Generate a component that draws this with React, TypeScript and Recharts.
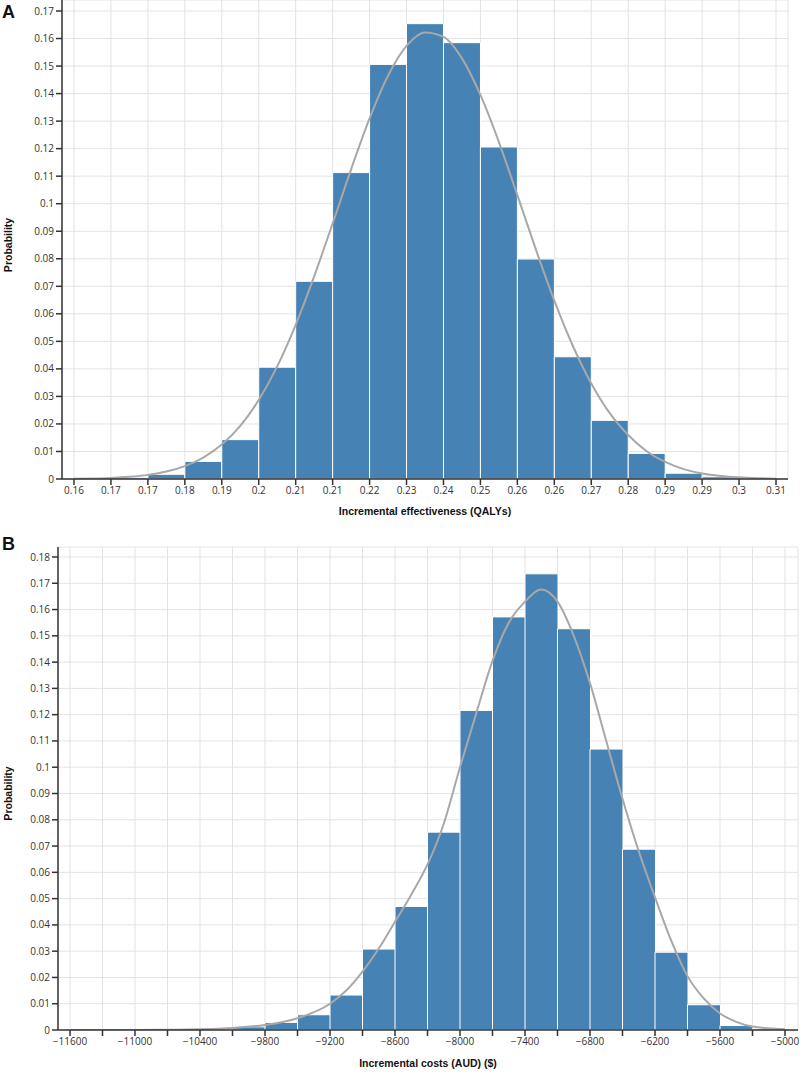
import React from 'react';
import { ComposedChart, Bar, Line, XAxis, YAxis, CartesianGrid, Label } from 'recharts';

// Panel A – incremental effectiveness (QALYs), 19 bins between tick marks
const qalyTickLabels = ['0.16', '0.17', '0.17', '0.18', '0.19', '0.2', '0.21', '0.21', '0.22', '0.23', '0.24', '0.25', '0.26', '0.26', '0.27', '0.28', '0.29', '0.29', '0.3', '0.31'];
const qalyBinProb = [0.0002, 0.0006, 0.0017, 0.0064, 0.0143, 0.0406, 0.0718, 0.1113, 0.1506, 0.1654, 0.1585, 0.1206, 0.0799, 0.0444, 0.0213, 0.0093, 0.0021, 0.0008, 0.0002];
// fitted curve, read every half bin
const qalyCurveProb = [
  0.0001, 0.0002, 0.0004, 0.0008, 0.0015, 0.0027, 0.0047, 0.0078, 0.0125, 0.0193,
  0.0287, 0.0409, 0.056, 0.0736, 0.0928, 0.1125, 0.131, 0.1465, 0.1573, 0.1622,
  0.1606, 0.1528, 0.1395, 0.1224, 0.1031, 0.0834, 0.0648, 0.0484, 0.0347, 0.0239,
  0.016, 0.0101, 0.0062, 0.0036, 0.002, 0.0011, 0.0006, 0.0003, 0.0001,
];
const qalyYTicks = [0, 0.01, 0.02, 0.03, 0.04, 0.05, 0.06, 0.07, 0.08, 0.09, 0.1, 0.11, 0.12, 0.13, 0.14, 0.15, 0.16, 0.17];

// Panel B – incremental costs (AUD), bins of 300
const costTicks = [-11600, -11300, -11000, -10700, -10400, -10100, -9800, -9500, -9200, -8900, -8600, -8300, -8000, -7700, -7400, -7100, -6800, -6500, -6200, -5900, -5600, -5300, -5000];
const costTickLabels = [-11600, -11000, -10400, -9800, -9200, -8600, -8000, -7400, -6800, -6200, -5600, -5000];
const costBinProb = [0, 0, 0, 0.0001, 0.0003, 0.0012, 0.0029, 0.0058, 0.0133, 0.0308, 0.047, 0.0753, 0.1216, 0.1572, 0.1736, 0.1527, 0.1069, 0.0688, 0.0296, 0.0096, 0.0017, 0.0005];
const costCurveX = [-11600, -11000, -10700, -10400, -10100, -9800, -9500, -9200, -9050, -8900, -8750, -8600, -8450, -8300, -8150, -8000, -7850, -7700, -7550, -7400, -7250, -7100, -6950, -6800, -6650, -6500, -6350, -6200, -6050, -5900, -5750, -5600, -5450, -5300, -5000];
const costCurveProb = [0, 0, 0.0001, 0.0003, 0.0008, 0.0019, 0.0045, 0.01, 0.015, 0.0222, 0.031, 0.0412, 0.0515, 0.063, 0.0785, 0.1, 0.1205, 0.1405, 0.155, 0.163, 0.1676, 0.163, 0.15, 0.132, 0.11, 0.088, 0.068, 0.0505, 0.034, 0.0205, 0.012, 0.0063, 0.0031, 0.0013, 0.0003];
const costYTicks = [0, 0.01, 0.02, 0.03, 0.04, 0.05, 0.06, 0.07, 0.08, 0.09, 0.1, 0.11, 0.12, 0.13, 0.14, 0.15, 0.16, 0.17, 0.18];

const tickStyle = { fontFamily: '"Open Sans", sans-serif', fontSize: 10, fill: '#333' };
const titleFont = '"Liberation Sans", Arial, sans-serif';
const fmtProb = (v: number) => String(+v.toFixed(2));

const YTitle = ({ viewBox, padTop }: any) => {
  const cy = viewBox.y + padTop + (viewBox.height - padTop) / 2;
  return (
    <text x={12} y={cy} transform={`rotate(-90 12 ${cy})`} textAnchor="middle"
      fontFamily={titleFont} fontWeight="bold" fontSize={10.5} fill="#111">
      Probability
    </text>
  );
};

const XTitle = ({ viewBox, value, offset }: any) => (
  <text x={viewBox.x + viewBox.width / 2} y={viewBox.y + viewBox.height - offset} textAnchor="middle"
    fontFamily={titleFont} fontWeight="bold" fontSize={10.5} fill="#111">
    {value}
  </text>
);

type PanelProps = {
  letter: string;
  top: number;
  height: number;
  margin: { top: number; right: number; left: number; bottom: number };
  yWidth: number;
  yPadTop: number;
  yTicks: number[];
  xPad: { left: number; right: number };
  xHeight: number;
  xDomain: [number, number];
  xTicks: number[];
  xFormat: (v: number) => string;
  bins: { bin: string; prob: number }[];
  curve: { x: number; prob: number }[];
  xTitle: string;
  titleOffset: number;
};

const Panel = (p: PanelProps) => (
  <div style={{ position: 'absolute', left: 0, top: p.top, width: 800, height: p.height }}>
    <ComposedChart width={800} height={p.height} data={p.bins} margin={p.margin} barCategoryGap={0} barGap={0}>
      <CartesianGrid xAxisId="num" stroke="#e3e3e3" strokeWidth={1} />
      <XAxis xAxisId="bins" dataKey="bin" type="category" hide height={0} padding={p.xPad} />
      <XAxis
        xAxisId="num"
        dataKey="x"
        type="number"
        domain={p.xDomain}
        ticks={p.xTicks}
        interval={0}
        tickFormatter={p.xFormat}
        padding={p.xPad}
        height={p.xHeight}
        tick={tickStyle}
        tickSize={6}
        axisLine={{ stroke: '#333', strokeWidth: 1.5 }}
        tickLine={{ stroke: '#333', strokeWidth: 1.5 }}
        allowDataOverflow
      >
        <Label content={<XTitle value={p.xTitle} offset={p.titleOffset} />} />
      </XAxis>
      <YAxis
        type="number"
        domain={[0, p.yTicks[p.yTicks.length - 1]]}
        ticks={p.yTicks}
        interval={0}
        tickFormatter={fmtProb}
        width={p.yWidth}
        padding={{ top: p.yPadTop, bottom: 0 }}
        tick={tickStyle}
        tickSize={6}
        axisLine={{ stroke: '#333', strokeWidth: 1.5 }}
        tickLine={{ stroke: '#333', strokeWidth: 1.5 }}
        allowDataOverflow
      >
        <Label content={<YTitle padTop={p.yPadTop} />} />
      </YAxis>
      <Bar xAxisId="bins" dataKey="prob" fill="#4682B4" stroke="#ffffff" strokeWidth={1} isAnimationActive={false} />
      <Line xAxisId="num" data={p.curve} dataKey="prob" type="monotone" stroke="#a8a8a8" strokeWidth={2}
        dot={false} activeDot={false} isAnimationActive={false} />
    </ComposedChart>
    <div style={{ position: 'absolute', left: 2, top: 3, fontFamily: titleFont, fontWeight: 'bold', fontSize: 18, lineHeight: '18px', color: '#111' }}>
      {p.letter}
    </div>
  </div>
);

export default function App() {
  const qalyBins = qalyBinProb.map((prob, i) => ({ bin: `${qalyTickLabels[i]}-${i}`, prob }));
  const qalyCurve = qalyCurveProb.map((prob, i) => ({ x: i / 2, prob }));
  const costBins = costBinProb.map((prob, i) => ({ bin: String(costTicks[i]), prob }));
  const costCurve = costCurveX.map((x, i) => ({ x, prob: costCurveProb[i] }));

  return (
    <div style={{ position: 'absolute', left: 0, top: 0, width: 800, height: 1072, background: '#fff' }}>
      <Panel
        letter="A"
        top={0}
        height={520}
        margin={{ top: 0, right: 12, left: 0, bottom: 0 }}
        yWidth={62}
        yPadTop={11}
        yTicks={qalyYTicks}
        xPad={{ left: 12, right: 12 }}
        xHeight={41}
        xDomain={[0, qalyTickLabels.length - 1]}
        xTicks={qalyTickLabels.map((_, i) => i)}
        xFormat={(v) => qalyTickLabels[v] ?? ''}
        bins={qalyBins}
        curve={qalyCurve}
        xTitle="Incremental effectiveness (QALYs)"
        titleOffset={4.5}
      />
      <Panel
        letter="B"
        top={532}
        height={540}
        margin={{ top: 15, right: 2, left: 0, bottom: 0 }}
        yWidth={58}
        yPadTop={10}
        yTicks={costYTicks}
        xPad={{ left: 12, right: 13 }}
        xHeight={42}
        xDomain={[costTicks[0], costTicks[costTicks.length - 1]]}
        xTicks={costTicks}
        xFormat={(v) => (costTickLabels.includes(v) ? '\u2212' + Math.abs(v) : '')}
        bins={costBins}
        curve={costCurve}
        xTitle="Incremental costs (AUD) ($)"
        titleOffset={5}
      />
    </div>
  );
}
